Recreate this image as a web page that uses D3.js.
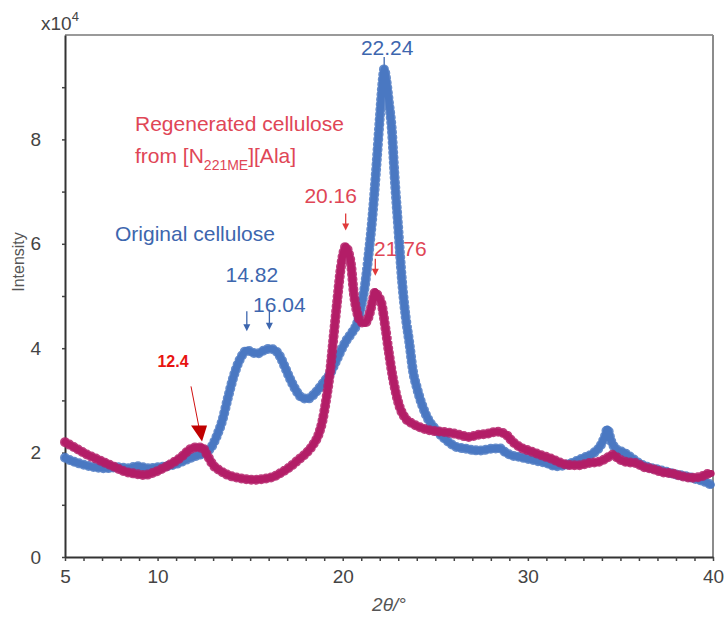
<!DOCTYPE html>
<html>
<head>
<meta charset="utf-8">
<script src="https://cdn.jsdelivr.net/npm/d3@7"></script>
<style>
  html, body { margin: 0; padding: 0; background: #fff; }
  svg { display: block; font-family: "Liberation Sans", Arial, Helvetica, sans-serif; }
</style>
</head>
<body>
<svg id="chart" width="724" height="617"></svg>
<script>
// XRD patterns: diffraction angle 2θ (degrees) and intensity (×10^4 counts)
const origAngle = [
  5.0, 5.3, 5.7, 6.2, 6.6, 7.2, 7.8, 8.4, 8.9, 9.5, 10.0, 10.5, 11.0, 11.4, 11.8,
  12.2, 12.6, 12.9, 13.2, 13.5, 13.8, 14.1, 14.4, 14.6, 14.82, 15.1, 15.4, 15.7,
  16.04, 16.3, 16.6, 16.9, 17.2, 17.5, 17.8, 18.1, 18.4, 18.7, 19.0, 19.3, 19.6,
  19.9, 20.2, 20.5, 20.8, 21.0, 21.2, 21.4, 21.6, 21.8, 22.0, 22.15, 22.24, 22.35,
  22.5, 22.65, 22.8, 23.0, 23.2, 23.4, 23.6, 23.8, 24.0, 24.3, 24.6, 25.0, 25.4,
  25.8, 26.2, 26.6, 27.0, 27.4, 27.8, 28.2, 28.5, 28.8, 29.1, 29.5, 30.0, 30.5,
  31.0, 31.5, 32.0, 32.5, 33.0, 33.5, 33.9, 34.15, 34.3, 34.5, 34.8, 35.2, 35.6,
  36.0, 36.5, 37.0, 37.5, 38.0, 38.5, 39.0, 39.5, 39.9
];
const origIntensity = [
  1.90, 1.85, 1.80, 1.75, 1.72, 1.70, 1.72, 1.70, 1.74, 1.70, 1.72, 1.74, 1.78, 1.84, 1.90,
  1.95, 2.00, 2.10, 2.32, 2.62, 3.05, 3.45, 3.75, 3.88, 3.96, 3.92, 3.90, 3.95,
  3.99, 3.97, 3.85, 3.62, 3.38, 3.18, 3.05, 3.03, 3.10, 3.22, 3.36, 3.50, 3.72,
  3.95, 4.15, 4.30, 4.50, 4.80, 5.20, 5.80, 6.50, 7.40, 8.40, 9.10, 9.35, 9.15,
  8.70, 8.20, 7.30, 6.30, 5.30, 4.60, 4.10, 3.55, 3.25, 2.90, 2.65, 2.45, 2.30,
  2.18, 2.10, 2.08, 2.05, 2.04, 2.06, 2.08, 2.08, 2.00, 1.95, 1.92, 1.88, 1.84,
  1.80, 1.74, 1.76, 1.82, 1.90, 1.98, 2.12, 2.30, 2.45, 2.22, 2.06, 2.00, 1.90,
  1.80, 1.72, 1.68, 1.63, 1.58, 1.55, 1.50, 1.45, 1.38
];

const regenAngle = [
  5.0, 5.3, 5.7, 6.2, 6.7, 7.2, 7.7, 8.2, 8.7, 9.3, 9.8, 10.3, 10.8, 11.3, 11.7,
  12.0, 12.4, 12.7, 13.0, 13.4, 13.8, 14.3, 14.8, 15.3, 15.8, 16.2, 16.7, 17.2,
  17.6, 18.0, 18.4, 18.7, 18.9, 19.1, 19.3, 19.5, 19.7, 19.9, 20.05, 20.16, 20.3,
  20.45, 20.6, 20.8, 21.0, 21.2, 21.4, 21.6, 21.76, 21.9, 22.1, 22.3, 22.5, 22.7,
  22.9, 23.1, 23.4, 23.8, 24.2, 24.8, 25.3, 25.8, 26.3, 26.8, 27.3, 27.8, 28.3,
  28.8, 29.2, 29.6, 30.2, 30.8, 31.3, 31.8, 32.3, 32.8, 33.3, 33.8, 34.2, 34.6,
  34.9, 35.3, 35.8, 36.3, 36.8, 37.3, 37.8, 38.3, 38.8, 39.3, 39.6, 39.9
];
const regenIntensity = [
  2.20, 2.14, 2.06, 1.96, 1.88, 1.80, 1.72, 1.64, 1.60, 1.57, 1.62, 1.70, 1.80, 1.92, 2.05,
  2.10, 2.10, 1.94, 1.76, 1.65, 1.57, 1.52, 1.49, 1.48, 1.50, 1.53, 1.62, 1.74,
  1.86, 1.98, 2.15, 2.35, 2.60, 3.00, 3.50, 4.20, 4.90, 5.55, 5.85, 5.95, 5.85,
  5.60, 5.05, 4.65, 4.50, 4.48, 4.60, 4.88, 5.08, 5.00, 4.85, 4.40, 3.90, 3.45,
  3.10, 2.85, 2.65, 2.55, 2.48, 2.42, 2.40, 2.38, 2.34, 2.30, 2.34, 2.36, 2.40,
  2.35, 2.20, 2.10, 2.02, 1.94, 1.88, 1.80, 1.76, 1.76, 1.80, 1.82, 1.88, 1.96,
  1.88, 1.82, 1.80, 1.72, 1.68, 1.62, 1.60, 1.55, 1.52, 1.53, 1.58, 1.60
];

// Axis tick labels
const xTickLabels = [5, 10, 20, 30, 40];
const yTickLabels = [0, 2, 4, 6, 8];

// Marked reflections (2θ)
const origPeaks = [14.82, 16.04, 22.24];
const regenPeaks = [20.16, 21.76];
const minorPeak = 12.4;

const blue = "#4a78c2";
const magenta = "#b31d67";
const blueText = "#3d66ae";
const redText = "#e04656";

const svg = d3.select("#chart");
const x = d3.scaleLinear().domain([5, 40]).range([65, 713]);
const y = d3.scaleLinear().domain([0, 10]).range([557, 35]);

const origSeries = origAngle.map((a, i) => ({ a, v: origIntensity[i] }));
const regenSeries = regenAngle.map((a, i) => ({ a, v: regenIntensity[i] }));
const valueAt = (series, a) => series.find(d => Math.abs(d.a - a) < 1e-6).v;

// Frame: light top/right border
svg.append("line")
  .attr("x1", x(5)).attr("x2", x(40)).attr("y1", y(10)).attr("y2", y(10))
  .attr("stroke", "#9a9a9a").attr("stroke-width", 2);
svg.append("line")
  .attr("x1", x(40)).attr("x2", x(40)).attr("y1", y(10)).attr("y2", y(0))
  .attr("stroke", "#8c8c8c").attr("stroke-width", 2);

// Axes
const xAxis = d3.axisBottom(x)
  .tickValues(d3.range(5, 41))
  .tickSize(4).tickSizeOuter(0).tickPadding(9)
  .tickFormat(d => xTickLabels.includes(d) ? d : "");
const gx = svg.append("g").attr("transform", `translate(0,${y(0)})`).call(xAxis);

const yAxis = d3.axisLeft(y)
  .tickValues(d3.range(0, 10))
  .tickSize(3).tickSizeOuter(0).tickPadding(21)
  .tickFormat(d => yTickLabels.includes(d) ? d : "");
const gy = svg.append("g").attr("transform", `translate(${x(5)},0)`).call(yAxis);

[gx, gy].forEach(g => {
  g.select(".domain").attr("stroke", "#333").attr("stroke-width", 2);
  g.selectAll(".tick line").attr("stroke", "#444").attr("stroke-width", 1.5);
  g.selectAll(".tick text")
    .attr("fill", "#444").style("font-size", "19px")
    .style("font-family", "'Liberation Sans', Arial, sans-serif");
});

// Axis titles
const mult = svg.append("text").attr("x", 41).attr("y", 30)
  .attr("fill", "#444").style("font-size", "19px");
mult.append("tspan").text("x10");
mult.append("tspan").attr("dy", -9).style("font-size", "13px").text("4");

svg.append("text")
  .attr("transform", "translate(24,262) rotate(-90)")
  .attr("text-anchor", "middle")
  .attr("fill", "#555").style("font-size", "16px")
  .text("Intensity");

svg.append("text")
  .attr("x", (x(5) + x(40)) / 2).attr("y", 611)
  .attr("text-anchor", "middle")
  .attr("fill", "#555").style("font-size", "19px").style("font-style", "italic")
  .text("2θ/°");

// Series names
const ann = svg.append("g").style("font-size", "21px");
ann.append("text").attr("x", 135).attr("y", 131).attr("fill", redText)
  .text("Regenerated cellulose");
const from = ann.append("text").attr("x", 135).attr("y", 163).attr("fill", redText);
from.append("tspan").text("from [N");
from.append("tspan").attr("dy", 7).style("font-size", "14px").text("221ME");
from.append("tspan").attr("dy", -7).text("][Ala]");
ann.append("text").attr("x", 115).attr("y", 241).attr("fill", blueText)
  .text("Original cellulose");

// Peak markers: label text plus a short arrow pointing at the curve
function smallArrow(g, px, y0, y1, color) {
  g.append("line").attr("x1", px).attr("x2", px).attr("y1", y0).attr("y2", y1 - 5)
    .attr("stroke", color).attr("stroke-width", 1.3);
  g.append("path")
    .attr("d", `M${px - 3.5},${y1 - 7} L${px + 3.5},${y1 - 7} L${px},${y1} Z`)
    .attr("fill", color);
}

const peakLayout = {
  14.82: { dx: 5, label: -49, top: -20, arrow: true },
  16.04: { dx: 10, label: -18, top: -20, arrow: true },
  22.24: { dx: 3, label: -11, top: -9, arrow: false },
  20.16: { dx: -15, label: -27, top: -17, arrow: true },
  21.76: { dx: 25, label: -20, top: -17, arrow: true }
};

const marks = svg.append("g").style("font-size", "21px");
origPeaks.forEach(p => {
  const L = peakLayout[p];
  const px = x(p);
  const tip = y(valueAt(origSeries, p)) - (p === 22.24 ? 3 : 19);
  marks.append("text").attr("x", px + L.dx).attr("y", tip + L.label)
    .attr("text-anchor", "middle").attr("fill", blueText).text(p.toFixed(2));
  if (L.arrow) smallArrow(marks, px, tip + L.top, tip, blueText);
  else marks.append("line").attr("x1", px).attr("x2", px)
    .attr("y1", tip + L.top).attr("y2", tip)
    .attr("stroke", blueText).attr("stroke-width", 1.3);
});
regenPeaks.forEach(p => {
  const L = peakLayout[p];
  const px = x(p);
  const tip = y(valueAt(regenSeries, p)) - 16;
  marks.append("text").attr("x", px + L.dx).attr("y", tip + L.label)
    .attr("text-anchor", "middle").attr("fill", redText).text(p.toFixed(2));
  smallArrow(marks, px, tip + L.top, tip, "#e03a3a");
});

// Curves: a solid core plus a beaded edge to mimic dense point markers
const line = d3.line().x(d => x(d.a)).y(d => y(d.v)).curve(d3.curveMonotoneX);
function drawSeries(series, color) {
  const g = svg.append("g");
  g.append("path").attr("d", line(series)).attr("fill", "none")
    .attr("stroke", color).attr("stroke-width", 7)
    .attr("stroke-linejoin", "round").attr("stroke-linecap", "round");
  g.append("path").attr("d", line(series)).attr("fill", "none")
    .attr("stroke", color).attr("stroke-width", 10)
    .attr("stroke-dasharray", "0 5").attr("stroke-linecap", "round")
    .attr("opacity", 0.85);
}
drawSeries(origSeries, blue);
drawSeries(regenSeries, magenta);

// Minor reflection at 12.4 with a bold label and a thin pointer
const tipX = x(minorPeak);
const tipY = y(valueAt(regenSeries, minorPeak)) - 6;
svg.append("text").attr("x", tipX - 29).attr("y", tipY - 74)
  .attr("text-anchor", "middle").attr("fill", "#e8140f")
  .style("font-size", "16px").style("font-weight", "bold")
  .text(String(minorPeak));
svg.append("line")
  .attr("x1", tipX - 11).attr("y1", tipY - 55)
  .attr("x2", tipX - 3).attr("y2", tipY - 14)
  .attr("stroke", "#d01010").attr("stroke-width", 1);
svg.append("path")
  .attr("d", `M${tipX - 11},${tipY - 16} L${tipX + 5},${tipY - 16} L${tipX},${tipY} Z`)
  .attr("fill", "#c00000");
</script>
</body>
</html>
